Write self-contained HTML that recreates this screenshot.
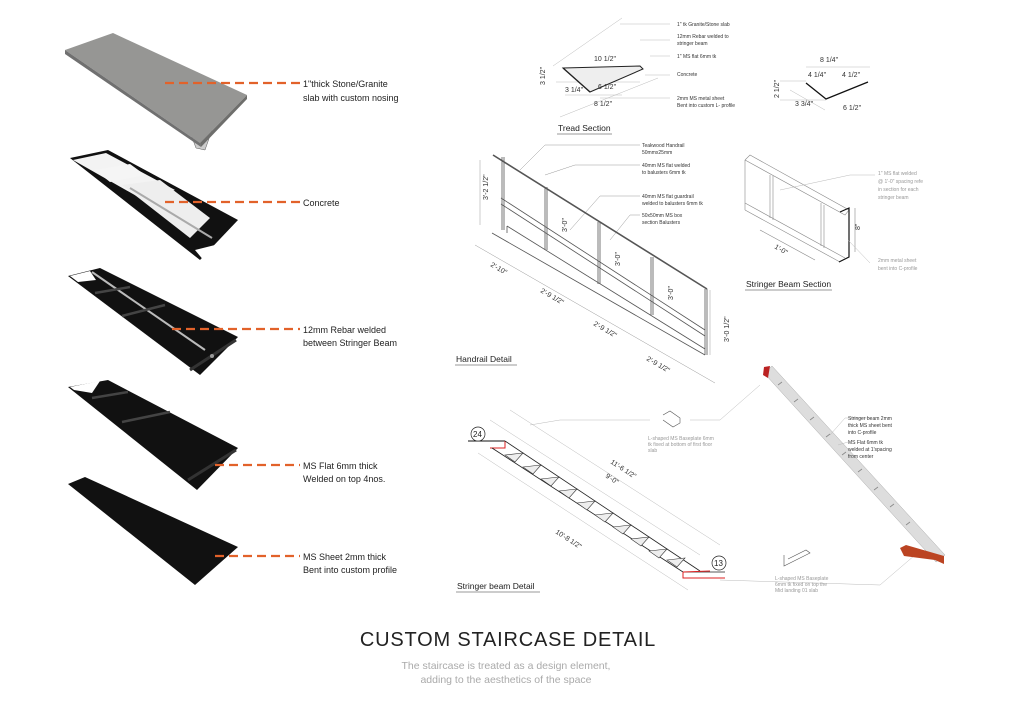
<!DOCTYPE html>
<html><head><meta charset="utf-8"><style>
html,body{margin:0;padding:0;background:#fff;}
svg{display:block;font-family:"Liberation Sans",sans-serif;}
.lb{font-size:9px;fill:#222;}
.sm{font-size:5px;fill:#333;}
.gr{font-size:5px;fill:#999;}
.dm{font-size:7px;fill:#333;}
.t{font-size:8.5px;fill:#222;}
</style></head><body>
<svg width="1024" height="724" viewBox="0 0 1024 724" xmlns="http://www.w3.org/2000/svg">
<!-- piece 1 stone slab -->
<polygon points="190,132 212,130 205,150 196,148" fill="#ccc" stroke="#555" stroke-width="0.5"/>
<polygon points="65,50 113,33 247,95 200,143" fill="#969694"/>
<polygon points="200,143 247,95 247,99 201,147" fill="#6e6e6c"/>
<polygon points="65,50 200,143 201,147 65,54" fill="#707070"/>
<!-- piece 2 concrete -->
<polygon points="70,158 108,150 238,220 200,260" fill="#111"/>
<polygon points="73,160 106,153 175,190 140,198" fill="#f3f3f3"/>
<polygon points="122,185 160,180 210,218 190,238" fill="#eee"/>
<polygon points="95,170 130,164 145,175 110,182" fill="#f5f5f5"/>
<line x1="130" y1="188" x2="212" y2="238" stroke="#aaa" stroke-width="2"/>
<polygon points="195,250 215,245 205,262" fill="#fff"/>
<!-- piece 3 rebar -->
<polygon points="68,276 100,268 238,337 200,375" fill="#111"/>
<polygon points="70,276 90,271 96,280 78,282" fill="#fff"/>
<line x1="92" y1="272" x2="205" y2="350" stroke="#bbb" stroke-width="2"/>
<line x1="95" y1="293" x2="130" y2="287" stroke="#444" stroke-width="2.5"/>
<line x1="122" y1="316" x2="165" y2="305" stroke="#444" stroke-width="2.5"/>
<line x1="190" y1="370" x2="236" y2="340" stroke="#333" stroke-width="3"/>
<circle cx="212" cy="356" r="2" fill="#999"/>
<!-- piece 4 MS flat -->
<polygon points="68,387 108,380 238,448 197,490" fill="#111"/>
<polygon points="70,387 100,381 92,393 74,390" fill="#fff"/>
<line x1="92" y1="398" x2="128" y2="392" stroke="#444" stroke-width="2.5"/>
<line x1="122" y1="422" x2="170" y2="412" stroke="#444" stroke-width="2.5"/>
<line x1="188" y1="480" x2="236" y2="450" stroke="#333" stroke-width="3"/>
<!-- piece 5 MS sheet -->
<polygon points="68,484 85,477 238,547 195,585" fill="#111"/>
<!-- orange leaders -->
<g stroke="#e2622a" stroke-width="2.2" stroke-dasharray="9,5">
<line x1="165" y1="83" x2="300" y2="83"/>
<line x1="165" y1="202" x2="300" y2="202"/>
<line x1="172" y1="329" x2="300" y2="329"/>
<line x1="215" y1="465" x2="300" y2="465"/>
<line x1="215" y1="556" x2="300" y2="556"/>
</g>
<text class="lb" x="303" y="87">1"thick Stone/Granite</text>
<text class="lb" x="303" y="101">slab with custom nosing</text>
<text class="lb" x="303" y="206">Concrete</text>
<text class="lb" x="303" y="333">12mm Rebar welded</text>
<text class="lb" x="303" y="346">between Stringer Beam</text>
<text class="lb" x="303" y="469">MS Flat 6mm thick</text>
<text class="lb" x="303" y="482">Welded on top 4nos.</text>
<text class="lb" x="303" y="560">MS Sheet 2mm thick</text>
<text class="lb" x="303" y="573">Bent into custom profile</text>

<!-- TREAD SECTION -->
<g stroke="#bbb" stroke-width="0.5" fill="none">
<line x1="553" y1="66" x2="622" y2="18"/><line x1="560" y1="117" x2="658" y2="78"/>
<line x1="620" y1="24" x2="670" y2="24"/><line x1="640" y1="40" x2="670" y2="40"/>
<line x1="650" y1="56" x2="670" y2="56"/><line x1="645" y1="75" x2="670" y2="75"/>
<line x1="600" y1="98" x2="670" y2="98"/>
<line x1="556" y1="82" x2="640" y2="82"/><line x1="565" y1="95" x2="622" y2="95"/>
<line x1="806" y1="67" x2="870" y2="67"/><line x1="780" y1="81" x2="806" y2="81"/>
<line x1="780" y1="100" x2="826" y2="100"/><line x1="790" y1="90" x2="825" y2="110"/>
</g>
<polygon points="563,68 640,66 643,69 590,92" fill="#eee" stroke="#222" stroke-width="1"/>
<line x1="563" y1="68" x2="590" y2="92" stroke="#222" stroke-width="1.3"/>
<polyline points="806,83 826,99 868,82" fill="none" stroke="#111" stroke-width="1.3"/>
<text class="sm" x="677" y="26">1" tk Granite/Stone slab</text>
<text class="sm" x="677" y="38">12mm Rebar welded to</text>
<text class="sm" x="677" y="45">stringer beam</text>
<text class="sm" x="677" y="58">1" MS flat 6mm tk</text>
<text class="sm" x="677" y="76">Concrete</text>
<text class="sm" x="677" y="100">2mm MS metal sheet</text>
<text class="sm" x="677" y="107">Bent into custom L- profile</text>
<text class="dm" x="594" y="61">10 1/2"</text>
<text class="dm" x="565" y="92">3 1/4"</text>
<text class="dm" x="598" y="89">6 1/2"</text>
<text class="dm" x="594" y="106">8 1/2"</text>
<text class="dm" x="545" y="85" transform="rotate(-90 545 85)">3 1/2"</text>
<text class="dm" x="820" y="62">8 1/4"</text>
<text class="dm" x="808" y="77">4 1/4"</text>
<text class="dm" x="842" y="77">4 1/2"</text>
<text class="dm" x="779" y="98" transform="rotate(-90 779 98)">2 1/2"</text>
<text class="dm" x="795" y="106">3 3/4"</text>
<text class="dm" x="843" y="110">6 1/2"</text>
<text class="t" x="558" y="131">Tread Section</text>
<line x1="557" y1="134" x2="612" y2="134" stroke="#333" stroke-width="0.6"/>

<!-- HANDRAIL DETAIL -->
<g stroke="#999" stroke-width="0.5" fill="none">
<line x1="520" y1="170" x2="545" y2="145"/><line x1="545" y1="145" x2="640" y2="145"/>
<line x1="545" y1="175" x2="575" y2="165"/><line x1="575" y1="165" x2="640" y2="165"/>
<line x1="570" y1="230" x2="600" y2="196"/><line x1="600" y1="196" x2="640" y2="196"/>
<line x1="610" y1="240" x2="630" y2="215"/><line x1="630" y1="215" x2="640" y2="215"/>
<line x1="480" y1="160" x2="480" y2="225"/>
<line x1="475" y1="245" x2="715" y2="383"/>
<line x1="710" y1="290" x2="710" y2="355"/>
</g>
<g stroke="#555" stroke-width="0.8" fill="none">
<line x1="493" y1="155" x2="707" y2="289" stroke-width="1.6"/>
<line x1="502" y1="157" x2="502" y2="230"/><line x1="504" y1="157" x2="504" y2="230"/>
<line x1="545" y1="187" x2="545" y2="250"/><line x1="547" y1="187" x2="547" y2="250"/>
<line x1="598" y1="222" x2="598" y2="284"/><line x1="600" y1="222" x2="600" y2="284"/>
<line x1="651" y1="257" x2="651" y2="315"/><line x1="653" y1="257" x2="653" y2="315"/>
<line x1="705" y1="289" x2="705" y2="355"/><line x1="707" y1="289" x2="707" y2="355"/>
<line x1="501" y1="198" x2="705" y2="330"/>
<line x1="501" y1="204" x2="705" y2="336"/>
<line x1="492" y1="233" x2="705" y2="355"/>
<line x1="507" y1="226" x2="705" y2="349"/>
<line x1="507" y1="226" x2="507" y2="233"/>
</g>
<text class="dm" x="488" y="200" transform="rotate(-90 488 200)">3'-2 1/2"</text>
<text class="dm" x="567" y="232" transform="rotate(-90 567 232)">3'-0"</text>
<text class="dm" x="620" y="266" transform="rotate(-90 620 266)">3'-0"</text>
<text class="dm" x="673" y="300" transform="rotate(-90 673 300)">3'-0"</text>
<text class="dm" x="729" y="342" transform="rotate(-90 729 342)">3'-0 1/2"</text>
<text class="dm" x="490" y="266" transform="rotate(30 490 266)">2'-10"</text>
<text class="dm" x="540" y="292" transform="rotate(30 540 292)">2'-9 1/2"</text>
<text class="dm" x="593" y="325" transform="rotate(30 593 325)">2'-9 1/2"</text>
<text class="dm" x="646" y="360" transform="rotate(30 646 360)">2'-9 1/2"</text>
<text class="sm" x="642" y="147">Teakwood Handrail</text>
<text class="sm" x="642" y="154">50mmx25mm</text>
<text class="sm" x="642" y="167">40mm MS flat welded</text>
<text class="sm" x="642" y="174">to balusters 6mm tk</text>
<text class="sm" x="642" y="198">40mm MS flat guardrail</text>
<text class="sm" x="642" y="205">welded to balusters 6mm tk</text>
<text class="sm" x="642" y="217">50x50mm MS box</text>
<text class="sm" x="642" y="224">section Balusters</text>
<text class="t" x="456" y="362">Handrail Detail</text>
<line x1="455" y1="365" x2="517" y2="365" stroke="#333" stroke-width="0.6"/>

<!-- STRINGER BEAM SECTION -->
<g stroke="#888" stroke-width="0.6" fill="none">
<polyline points="745,160 750,155 849,210 845,215 745,160"/>
<line x1="745" y1="203" x2="845" y2="258"/>
<line x1="745" y1="210" x2="840" y2="262"/>
<line x1="745" y1="160" x2="745" y2="210"/>
<line x1="770" y1="175" x2="770" y2="218"/><line x1="773" y1="176" x2="773" y2="220"/>
<line x1="821" y1="203" x2="821" y2="246"/><line x1="824" y1="205" x2="824" y2="248"/>
<line x1="760" y1="230" x2="815" y2="260"/>
<line x1="855" y1="208" x2="855" y2="252"/>
</g>
<polyline points="840,212 849,208 849,257 839,262" fill="none" stroke="#111" stroke-width="1.2"/>
<g stroke="#bbb" stroke-width="0.5"><line x1="780" y1="190" x2="850" y2="175"/><line x1="850" y1="175" x2="875" y2="175"/><line x1="848" y1="240" x2="870" y2="263"/></g>
<text class="dm" x="774" y="248" transform="rotate(30 774 248)">1'-0"</text>
<text class="dm" x="860" y="230" transform="rotate(-90 860 230)">8"</text>
<text class="gr" x="878" y="175">1" MS flat welded</text>
<text class="gr" x="878" y="183">@ 1'-0" spacing refe</text>
<text class="gr" x="878" y="191">in section for each</text>
<text class="gr" x="878" y="199">stringer beam</text>
<text class="gr" x="878" y="262">2mm metal sheet</text>
<text class="gr" x="878" y="270">bent into C-profile</text>
<text class="t" x="746" y="287">Stringer Beam Section</text>
<line x1="745" y1="290" x2="832" y2="290" stroke="#333" stroke-width="0.6"/>

<!-- STRINGER BEAM DETAIL -->
<g stroke="#bbb" stroke-width="0.5" fill="none">
<line x1="510" y1="410" x2="720" y2="545"/><line x1="490" y1="420" x2="700" y2="555"/>
<line x1="478" y1="453" x2="688" y2="590"/><line x1="530" y1="425" x2="560" y2="420"/>
<line x1="560" y1="420" x2="650" y2="420"/>
<line x1="690" y1="420" x2="720" y2="420"/><line x1="720" y1="420" x2="760" y2="385"/>
<line x1="720" y1="580" x2="880" y2="585"/><line x1="880" y1="585" x2="915" y2="555"/>
</g>
<line x1="468" y1="441" x2="505" y2="441" stroke="#111" stroke-width="1"/>
<polyline points="490,448 505,448 505,441" fill="none" stroke="#d22" stroke-width="1"/>
<line x1="505" y1="441" x2="700" y2="571" stroke="#222" stroke-width="0.8"/>
<line x1="492" y1="448" x2="683" y2="572" stroke="#222" stroke-width="0.8"/>
<line x1="683" y1="572" x2="725" y2="572" stroke="#222" stroke-width="0.8"/>
<polyline points="683,572 683,578 725,578" fill="none" stroke="#d22" stroke-width="1"/>
<line x1="683" y1="572" x2="710" y2="571" stroke="#d22" stroke-width="1"/>
<g fill="#eee" stroke="#333" stroke-width="0.6">
<polygon points="505,455 523,453 515,462"/><polygon points="523,467 541,465 533,474"/>
<polygon points="541,479 559,477 551,486"/><polygon points="559,491 577,489 569,498"/>
<polygon points="577,503 595,501 587,510"/><polygon points="595,515 613,513 605,522"/>
<polygon points="613,527 631,525 623,534"/><polygon points="631,539 649,537 641,546"/>
<polygon points="649,551 667,549 659,558"/><polygon points="667,560 685,558 677,567"/>
</g>
<circle cx="478" cy="434" r="7" fill="#fff" stroke="#222" stroke-width="0.7"/>
<text x="473" y="437" font-size="8" fill="#222">24</text>
<circle cx="719" cy="563" r="7" fill="#fff" stroke="#222" stroke-width="0.7"/>
<text x="714" y="566" font-size="8" fill="#222">13</text>
<text class="dm" x="610" y="463" transform="rotate(33 610 463)">11'-6 1/2"</text>
<text class="dm" x="605" y="477" transform="rotate(33 605 477)">9'-0"</text>
<text class="dm" x="555" y="533" transform="rotate(33 555 533)">10'-8 1/2"</text>
<polyline points="663,415 670,411 680,418 680,423 673,427 663,420" fill="none" stroke="#555" stroke-width="0.6"/>
<text class="gr" x="648" y="440">L-shaped MS Baseplate 6mm</text>
<text class="gr" x="648" y="446">tk fixed at bottom of first floor</text>
<text class="gr" x="648" y="452">slab</text>
<polyline points="784,555 784,566 810,553 806,550 788,559" fill="none" stroke="#555" stroke-width="0.6"/>
<text class="gr" x="775" y="580">L-shaped MS Baseplate</text>
<text class="gr" x="775" y="586">6mm tk fixed on top the</text>
<text class="gr" x="775" y="592">Mid landing 01 slab</text>
<text class="t" x="457" y="589">Stringer beam Detail</text>
<line x1="456" y1="592" x2="540" y2="592" stroke="#333" stroke-width="0.6"/>

<!-- DIAGONAL BEAM 3D -->
<polygon points="764,373 772,366 945,555 936,562" fill="#ddd" stroke="#aaa" stroke-width="0.5"/>
<polygon points="764,367 770,366 768,378 763,375" fill="#b22"/>
<polygon points="900,548 906,545 944,556 944,564 935,560 904,556" fill="#b42"/>
<g stroke="#888" stroke-width="0.8">
<line x1="778" y1="385" x2="782" y2="382"/><line x1="794" y1="402" x2="798" y2="399"/>
<line x1="810" y1="420" x2="814" y2="417"/><line x1="826" y1="437" x2="830" y2="434"/>
<line x1="842" y1="455" x2="846" y2="452"/><line x1="858" y1="472" x2="862" y2="469"/>
<line x1="874" y1="490" x2="878" y2="487"/><line x1="890" y1="507" x2="894" y2="504"/>
<line x1="906" y1="525" x2="910" y2="522"/>
</g>
<g stroke="#bbb" stroke-width="0.5"><line x1="830" y1="435" x2="845" y2="418"/><line x1="845" y1="418" x2="870" y2="418"/><line x1="838" y1="445" x2="848" y2="442"/></g>
<text class="sm" x="848" y="420">Stringer beam 2mm</text>
<text class="sm" x="848" y="427">thick MS sheet bent</text>
<text class="sm" x="848" y="434">into C-profile</text>
<text class="sm" x="848" y="444">MS Flat 6mm tk</text>
<text class="sm" x="848" y="451">welded at 1'spacing</text>
<text class="sm" x="848" y="458">from center</text>

<!-- TITLE -->
<text x="508" y="646" text-anchor="middle" font-size="20" letter-spacing="0.8" fill="#222">CUSTOM STAIRCASE DETAIL</text>
<text x="506" y="669" text-anchor="middle" font-size="10.5" fill="#aaa">The staircase is treated as a design element,</text>
<text x="506" y="683" text-anchor="middle" font-size="10.5" fill="#aaa">adding to the aesthetics of the space</text>
</svg>
</body></html>
